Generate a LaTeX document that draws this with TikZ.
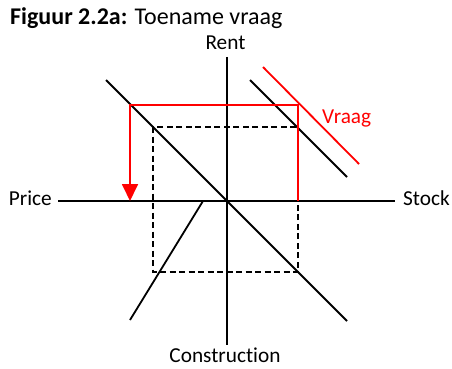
\documentclass[tikz,border=0pt]{standalone}
\usepackage{fontspec}
\setmainfont[Ligatures=NoCommon]{Carlito}
\usetikzlibrary{arrows.meta}
\tikzset{
  axisline/.style={line width=1.8pt, black},
  curveline/.style={line width=1.8pt, black},
  redline/.style={line width=1.8pt, red},
  dashline/.style={line width=1.6pt, black, dash pattern=on 6pt off 3.5pt},
  lbl/.style={font=\fontsize{21.3}{24}\selectfont, inner sep=0pt},
}
\begin{document}
\begin{tikzpicture}[x=1pt,y=-1pt]
\useasboundingbox (0,0) rectangle (452,369);
% title
\node[lbl, anchor=base west, font=\fontsize{24}{28}\selectfont] (title) at (10,25) {\textbf{Figuur 2.2a:} Toename vraag};
% coordinates
\coordinate (O) at (227,201);
\coordinate (ytop) at (227,57);
\coordinate (ybot) at (227,345);
\coordinate (xl) at (58,201);
\coordinate (xr) at (395,201);
\coordinate (d1) at (106,80);
\coordinate (d2) at (347,321);
\coordinate (s1) at (250,80);
\coordinate (s2) at (347,177);
\coordinate (v1) at (263,67);
\coordinate (v2) at (359,164);
\coordinate (c1) at (130,320);
\coordinate (c2) at (203,201);
\coordinate (r1) at (153,127);
\coordinate (r2) at (298,272);
\coordinate (q0) at (298,201);
\coordinate (q1) at (298,105);
\coordinate (p1) at (130,105);
\coordinate (p0) at (130,201);
% labels
\node[lbl, anchor=base] (rent) at (225.5,49) {Rent};
\node[lbl, anchor=base east] (price) at (52,205) {Price};
\node[lbl, anchor=base west] (stock) at (403,205) {Stock};
\node[lbl, anchor=base] (constr) at (225,362) {Construction};
\node[lbl, anchor=base west, text=red] (vraag) at (322,123) {Vraag};
% dashed rectangle
\draw[dashline] (r1) rectangle (r2);
% axes
\draw[axisline] (ytop) -- (ybot);
\draw[axisline] (xl) -- (xr);
% lines
\draw[curveline] (d1) -- (d2);
\draw[curveline] (s1) -- (s2);
\draw[curveline] (c1) -- (c2);
\draw[redline] (v1) -- (v2);
% red path
\draw[redline, -{Triangle[length=17pt,width=16pt]}] (q0) -- (q1) -- (p1) -- (p0);
\end{tikzpicture}
\end{document}
